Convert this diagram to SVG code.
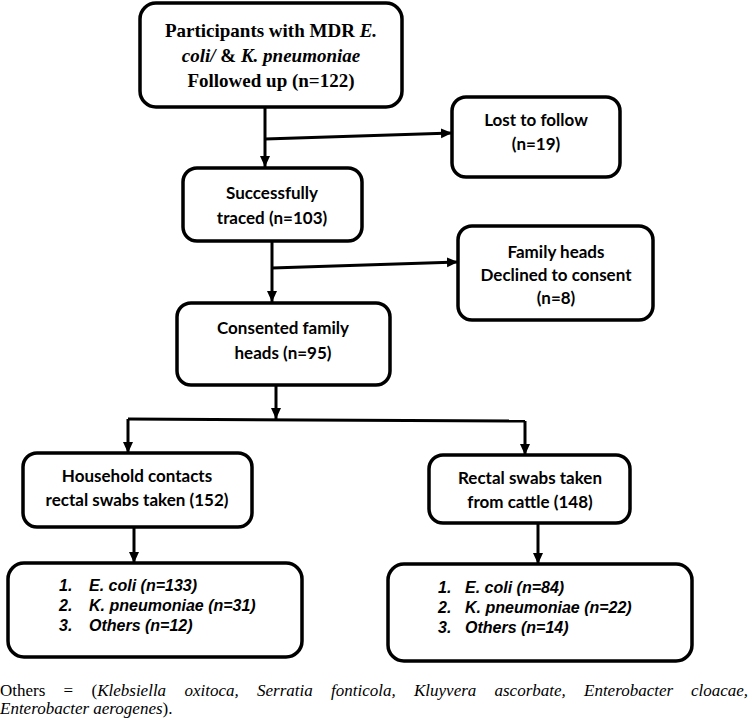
<svg xmlns="http://www.w3.org/2000/svg" width="749" height="723" viewBox="0 0 749 723">
<defs>
<marker id="ah" markerUnits="userSpaceOnUse" markerWidth="12" markerHeight="12" viewBox="0 0 12 12" refX="11" refY="6" orient="auto">
<path d="M0,1 L11,6 L0,11 Z" fill="#000"/>
</marker>
<style>
.box{fill:#fff;stroke:#000;stroke-width:3.5}
.ln{fill:none;stroke:#000;stroke-width:3}
.arr{fill:none;stroke:#000;stroke-width:3;marker-end:url(#ah)}
.tb{font-family:"Liberation Serif","Times New Roman",serif;font-weight:bold;font-size:19px;text-anchor:middle}
.cb{font-family:"Lato","Liberation Sans",Arial,sans-serif;font-weight:bold;font-size:17px;text-anchor:middle}
.li{font-family:"Liberation Sans",Arial,sans-serif;font-weight:bold;font-style:italic;font-size:16px}
.ft{font-family:"Liberation Serif","Times New Roman",serif;font-size:17px}
.it{font-style:italic}
</style>
</defs>
<rect width="749" height="723" fill="#fff"/>
<g id="connectors">
<path class="arr" d="M265,107 L265,167"/>
<path class="arr" d="M265,139 L452,133"/>
<path class="arr" d="M272,241 L272,302"/>
<path class="arr" d="M272,268 L458,262"/>
<path class="arr" d="M276,385 L276,419"/>
<path class="ln" d="M128,419 L525,421"/>
<path class="arr" d="M128,419 L128,453"/>
<path class="arr" d="M525,421 L525,455"/>
<path class="arr" d="M134,527 L134,563"/>
<path class="arr" d="M538,523 L538,564"/>
</g>
<g id="n-participants">
<rect class="box" x="140" y="3" width="262" height="104" rx="16"/>
<text class="tb" x="271" y="37">Participants with MDR <tspan class="it">E.</tspan></text>
<text class="tb" x="271" y="62"><tspan class="it">coli/</tspan> &amp; <tspan class="it">K. pneumoniae</tspan></text>
<text class="tb" x="271" y="87">Followed up (n=122)</text>
</g>
<g id="n-lost">
<rect class="box" x="452" y="97" width="168" height="80" rx="14"/>
<text class="cb" x="536" y="126">Lost to follow</text>
<text class="cb" x="536" y="150">(n=19)</text>
</g>
<g id="n-traced">
<rect class="box" x="183" y="168" width="179" height="73" rx="14"/>
<text class="cb" x="272" y="199">Successfully</text>
<text class="cb" x="272" y="224">traced (n=103)</text>
</g>
<g id="n-declined">
<rect class="box" x="458" y="226" width="195" height="94" rx="14"/>
<text class="cb" x="556" y="258">Family heads</text>
<text class="cb" x="556" y="281">Declined to consent</text>
<text class="cb" x="556" y="304">(n=8)</text>
</g>
<g id="n-consented">
<rect class="box" x="177" y="303" width="213" height="82" rx="14"/>
<text class="cb" x="283" y="334">Consented family</text>
<text class="cb" x="283" y="359">heads (n=95)</text>
</g>
<g id="n-household">
<rect class="box" x="23" y="453" width="229" height="74" rx="14"/>
<text class="cb" x="137" y="482">Household contacts</text>
<text class="cb" x="137" y="506">rectal swabs taken (152)</text>
</g>
<g id="n-cattle">
<rect class="box" x="429" y="455" width="201" height="68" rx="14"/>
<text class="cb" x="530" y="484">Rectal swabs taken</text>
<text class="cb" x="530" y="508">from cattle (148)</text>
</g>
<g id="n-household-results">
<rect class="box" x="8" y="563" width="294" height="94" rx="16"/>
<text class="li" x="59" y="591">1.</text><text class="li" x="89" y="591">E. coli (n=133)</text>
<text class="li" x="59" y="611">2.</text><text class="li" x="89" y="611">K. pneumoniae (n=31)</text>
<text class="li" x="59" y="631">3.</text><text class="li" x="89" y="631">Others (n=12)</text>
</g>
<g id="n-cattle-results">
<rect class="box" x="388" y="564" width="304" height="97" rx="16"/>
<text class="li" x="438" y="593">1.</text><text class="li" x="465" y="593">E. coli (n=84)</text>
<text class="li" x="438" y="613">2.</text><text class="li" x="465" y="613">K. pneumoniae (n=22)</text>
<text class="li" x="438" y="633">3.</text><text class="li" x="465" y="633">Others (n=14)</text>
</g>
<g id="footnote">
<text class="ft" y="696"><tspan x="0">Others</tspan><tspan x="63.5">=</tspan><tspan x="91.5">(</tspan><tspan class="it">Klebsiella</tspan><tspan class="it" x="184.5">oxitoca,</tspan><tspan class="it" x="257">Serratia</tspan><tspan class="it" x="331">fonticola,</tspan><tspan class="it" x="414">Kluyvera</tspan><tspan class="it" x="494.5">ascorbate,</tspan><tspan class="it" x="584">Enterobacter</tspan><tspan class="it" x="691">cloacae,</tspan></text>
<text class="ft" x="0" y="714"><tspan class="it">Enterobacter aerogenes</tspan>).</text>
</g>
</svg>
